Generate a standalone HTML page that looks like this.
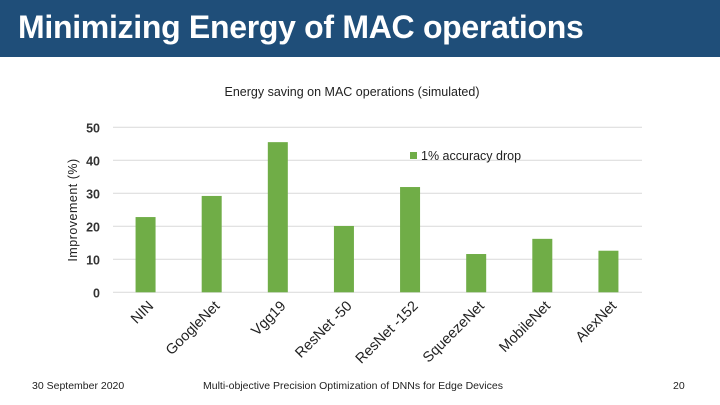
<!DOCTYPE html>
<html><head><meta charset="utf-8"><style>
body{margin:0;width:720px;height:405px;background:#fff;overflow:hidden;font-family:"Liberation Sans",sans-serif;position:relative}
#hdr{position:absolute;left:0;top:0;width:720px;height:57px;background:#1f4e79}
#hdr h1{margin:0;position:absolute;left:18px;top:9px;color:#fff;font-size:32px;font-weight:bold;letter-spacing:-0.3px}
.ft{position:absolute;font-size:10.5px;color:#222}
</style></head><body>
<div id="hdr"><h1>Minimizing Energy of MAC operations</h1></div>
<svg id="chart" width="720" height="405" style="position:absolute;left:0;top:0"></svg>
<div class="ft" style="left:32px;top:380px">30 September 2020</div>
<div class="ft" style="left:203px;top:380px">Multi-objective Precision Optimization of DNNs for Edge Devices</div>
<div class="ft" style="left:673px;top:380px">20</div>
<script>
const categories=["NIN","GoogleNet","Vgg19","ResNet-50","ResNet-152","SqueezeNet","MobileNet","AlexNet"];
const values=[22.8,29.2,45.5,20.1,31.9,11.6,16.2,12.6];
const yTicks=[0,10,20,30,40,50];
const svg=document.getElementById('chart');
const NS='http://www.w3.org/2000/svg';
const x0=113,x1=642,y0=292.3,y1=127.3,ymax=50;
const step=(x1-x0)/categories.length;
const yS=v=>y0-(v/ymax)*(y0-y1);
const xS=i=>x0+step*(i+0.5)-0.5;
function mk(t,a,txt){const e=document.createElementNS(NS,t);for(const k in a)e.setAttribute(k,a[k]);if(txt!==undefined)e.textContent=txt;svg.appendChild(e);return e;}
let e=mk('text',{x:352,y:96,'text-anchor':'middle','font-size':12.5,fill:'#222'},'Energy saving on MAC operations (simulated)');


yTicks.forEach(t=>{
 const l=mk('line',{x1:x0,x2:x1,y1:yS(t),y2:yS(t),stroke:'#d9d9d9','stroke-width':1});
 
 
 const tx=mk('text',{x:100,y:yS(t)+5,'text-anchor':'end','font-size':12.5,'font-weight':'bold',fill:'#333'},String(t));
 
 
});
e=mk('text',{transform:'translate(77,210) rotate(-90)','text-anchor':'middle','font-size':12.5,fill:'#222','letter-spacing':'0.5'},'Improvement (%)');


values.forEach((v,i)=>{
 const r=mk('rect',{x:xS(i)-10,y:yS(v),width:20,height:y0-yS(v),fill:'#70ad47'});
 
 
 const cx=xS(i)+2,cy=300;
 const t=mk('text',{x:cx,y:cy,transform:`rotate(-45 ${cx} ${cy})`,'text-anchor':'end','font-size':14.5,fill:'#222','dominant-baseline':'hanging'},categories[i].replace('-',' -'));
 
 
});
e=mk('rect',{x:410,y:152,width:7,height:7,fill:'#70ad47'});


e=mk('text',{x:421,y:160,'font-size':12.5,fill:'#222'},'1% accuracy drop');


</script>
</body></html>
